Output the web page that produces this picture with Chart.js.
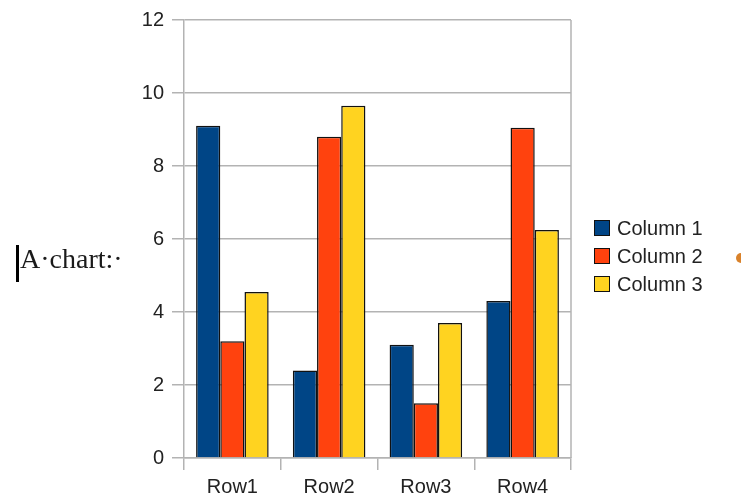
<!DOCTYPE html>
<html>
<head>
<meta charset="utf-8">
<script src="https://cdn.jsdelivr.net/npm/chart.js@4.4.1/dist/chart.umd.min.js"></script>
<style>
  html, body { margin: 0; padding: 0; background: #fff; }
  #wrap { position: relative; width: 741px; height: 497px; overflow: hidden; }
  #chart { position: absolute; left: 0; top: 0; }
  #caption {
    position: absolute; left: 20px; top: 243px;
    font-family: "Liberation Serif", "DejaVu Serif", serif;
    font-size: 28px; color: #1a1a1a; white-space: nowrap;
  }
  #cursor { position: absolute; left: 16px; top: 245px; width: 3px; height: 37px; background: #000; }
  #anchor { position: absolute; left: 736px; top: 253px; width: 10px; height: 10px; border-radius: 50%; background: #d9822b; }
  #legend { position: absolute; left: 594px; top: 214px; font-family: "Liberation Sans", Arial, sans-serif; font-size: 20px; color: #222; }
  .item { height: 28px; display: flex; align-items: center; }
  .box { width: 14px; height: 14px; border: 1.5px solid #111; margin-right: 7px; }
</style>
</head>
<body>
<div id="wrap">
  <canvas id="chart" width="741" height="497"></canvas>
  <div id="cursor"></div>
  <div id="caption">A·chart:·</div>
  <div id="anchor"></div>
  <div id="legend"></div>
</div>
<script>
// Chart data
const rowLabels = ['Row1', 'Row2', 'Row3', 'Row4'];
const seriesNames = ['Column 1', 'Column 2', 'Column 3'];
const column1 = [9.1, 2.4, 3.1, 4.3];
const column2 = [3.2, 8.8, 1.5, 9.05];
const column3 = [4.55, 9.65, 3.7, 6.25];
const yTicks = [0, 2, 4, 6, 8, 10, 12];

// LibreOffice default palette
const seriesColors = ['#004586', '#ff420e', '#ffd320'];
const gridColor = '#b3b3b3';

// Right frame line of the plot area
const frameRight = {
  id: 'frameRight',
  afterDraw(chart) {
    const { ctx, chartArea } = chart;
    ctx.save();
    ctx.strokeStyle = gridColor;
    ctx.lineWidth = 1.5;
    ctx.beginPath();
    ctx.moveTo(chartArea.right, chartArea.top);
    ctx.lineTo(chartArea.right, chartArea.bottom);
    ctx.stroke();
    ctx.restore();
  }
};

const seriesData = [column1, column2, column3];

new Chart(document.getElementById('chart'), {
  type: 'bar',
  data: {
    labels: rowLabels,
    datasets: seriesNames.map((name, i) => ({
      label: name,
      data: seriesData[i],
      backgroundColor: seriesColors[i],
      borderColor: '#111',
      borderWidth: 1.5,
      categoryPercentage: 0.75,
      barPercentage: 1.0
    }))
  },
  options: {
    responsive: false,
    animation: false,
    layout: { padding: { top: 13, right: 170, left: 0, bottom: 0 } },
    plugins: { legend: { display: false }, tooltip: { enabled: false } },
    scales: {
      y: {
        min: 0,
        max: 12,
        afterFit: (scale) => { scale.width = 184; },
        afterBuildTicks: (scale) => { scale.ticks = yTicks.map(v => ({ value: v })); },
        ticks: {
          color: '#222',
          padding: 8,
          font: { family: 'Liberation Sans', size: 20 }
        },
        grid: { color: gridColor, lineWidth: 1.5, tickLength: 12 },
        border: { display: true, color: gridColor, width: 1.5 }
      },
      x: {
        afterFit: (scale) => { scale.height = 39; },
        ticks: {
          color: '#222',
          padding: 5,
          font: { family: 'Liberation Sans', size: 20 }
        },
        grid: { color: gridColor, lineWidth: 1.5, drawOnChartArea: false, tickLength: 12, offset: true },
        border: { display: true, color: gridColor, width: 1.5 }
      }
    }
  },
  plugins: [frameRight]
});

// HTML legend built from the series arrays
const legend = document.getElementById('legend');
seriesNames.forEach((name, i) => {
  const item = document.createElement('div');
  item.className = 'item';
  const box = document.createElement('div');
  box.className = 'box';
  box.style.background = seriesColors[i];
  const text = document.createElement('span');
  text.textContent = name;
  item.appendChild(box);
  item.appendChild(text);
  legend.appendChild(item);
});
</script>
</body>
</html>
